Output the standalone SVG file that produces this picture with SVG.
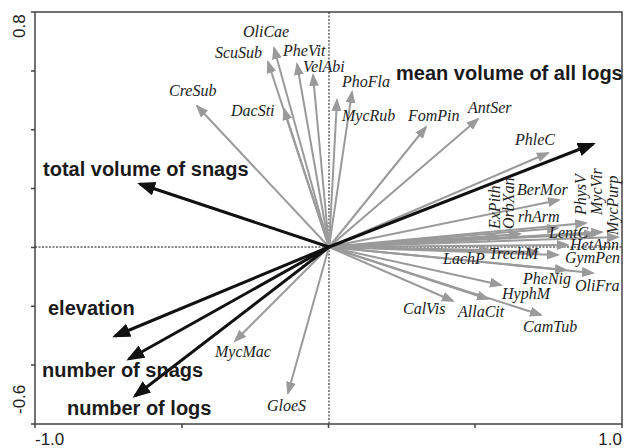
<svg xmlns="http://www.w3.org/2000/svg" width="627" height="448" viewBox="0 0 627 448">
<style>
.frame{fill:none;stroke:#444;stroke-width:1.5}
.tick{stroke:#444;stroke-width:1.5}
.dash{stroke:#111;stroke-width:1;stroke-dasharray:2,1.5;fill:none}
.sp{stroke:#9a9a9a;stroke-width:2;marker-end:url(#ga)}
.env{stroke:#111;stroke-width:3;marker-end:url(#ba)}
.lab{font-family:"Liberation Serif","DejaVu Serif",serif;font-style:italic;font-size:16px;fill:#222}
.big{font-family:"Liberation Sans",Arial,sans-serif;font-weight:bold;font-size:20px;fill:#1a1a1a}
.ax{font-family:"Liberation Sans",Arial,sans-serif;font-size:17px;fill:#222}
</style>
<defs>
<marker id="ga" markerUnits="userSpaceOnUse" markerWidth="15" markerHeight="11" refX="11" refY="5" orient="auto"><path d="M0,0 L13,5 L0,10 z" fill="#9a9a9a"/></marker>
<marker id="ba" markerUnits="userSpaceOnUse" markerWidth="20" markerHeight="16" refX="15" refY="7" orient="auto"><path d="M0,0 L18,7 L0,14 z" fill="#111"/></marker>
</defs>
<rect width="627" height="448" fill="#fff"/>
<g id="axes">
<path class="frame" d="M35,12 H622 V424 H35 Z"/>
<path class="tick" d="M35,12 H31 M35,70.9 H31 M35,129.7 H31 M35,188.6 H31 M35,247.4 H31 M35,306.3 H31 M35,365.1 H31 M35,424 H31 M35,424 V428 M182,424 V428 M328.5,424 V428 M475,424 V428 M622,424 V428"/>
<line class="dash" x1="329" y1="12" x2="329" y2="424"/>
<line class="dash" x1="35" y1="247" x2="622" y2="247"/>
<text class="ax" transform="translate(25,38) rotate(-90)">0.8</text>
<text class="ax" transform="translate(25,414) rotate(-90)">-0.6</text>
<text class="ax" x="35" y="445">-1.0</text>
<text class="ax" x="622" y="445" text-anchor="end">1.0</text>
</g>
<g id="connectors">
<line class="sp" x1="329" y1="247" x2="197" y2="106"/>
<line class="sp" x1="329" y1="247" x2="284" y2="109"/>
<line class="sp" x1="329" y1="247" x2="268" y2="62"/>
<line class="sp" x1="329" y1="247" x2="274" y2="48"/>
<line class="sp" x1="329" y1="247" x2="297" y2="64"/>
<line class="sp" x1="329" y1="247" x2="313" y2="75"/>
<line class="sp" x1="329" y1="247" x2="337" y2="100"/>
<line class="sp" x1="329" y1="247" x2="352" y2="92"/>
<line class="sp" x1="329" y1="247" x2="426" y2="127"/>
<line class="sp" x1="329" y1="247" x2="478" y2="119"/>
<line class="sp" x1="329" y1="247" x2="548" y2="153"/>
<line class="sp" x1="329" y1="247" x2="559" y2="200"/>
<line class="sp" x1="329" y1="247" x2="586" y2="223"/>
<line class="sp" x1="329" y1="247" x2="558" y2="228"/>
<line class="sp" x1="329" y1="247" x2="498" y2="236"/>
<line class="sp" x1="329" y1="247" x2="520" y2="234"/>
<line class="sp" x1="329" y1="247" x2="595" y2="234"/>
<line class="sp" x1="329" y1="247" x2="618" y2="237"/>
<line class="sp" x1="329" y1="247" x2="602" y2="232"/>
<line class="sp" x1="329" y1="247" x2="568" y2="245"/>
<line class="sp" x1="329" y1="247" x2="558" y2="255"/>
<line class="sp" x1="329" y1="247" x2="538" y2="252"/>
<line class="sp" x1="329" y1="247" x2="490" y2="250"/>
<line class="sp" x1="329" y1="247" x2="566" y2="270"/>
<line class="sp" x1="329" y1="247" x2="593" y2="273"/>
<line class="sp" x1="329" y1="247" x2="501" y2="285"/>
<line class="sp" x1="329" y1="247" x2="453" y2="301"/>
<line class="sp" x1="329" y1="247" x2="488" y2="299"/>
<line class="sp" x1="329" y1="247" x2="541" y2="315"/>
<line class="sp" x1="329" y1="247" x2="235" y2="341"/>
<line class="sp" x1="329" y1="247" x2="288" y2="393"/>
<line class="env" x1="329" y1="247" x2="593" y2="144"/>
<line class="env" x1="329" y1="247" x2="140" y2="184"/>
<line class="env" x1="329" y1="247" x2="115" y2="336"/>
<line class="env" x1="329" y1="247" x2="129" y2="359"/>
<line class="env" x1="329" y1="247" x2="135" y2="396"/>
</g>
<g id="n-CreSub"><text class="lab" x="169" y="96">CreSub</text></g>
<g id="n-DacSti"><text class="lab" x="231" y="116">DacSti</text></g>
<g id="n-ScuSub"><text class="lab" x="215" y="58">ScuSub</text></g>
<g id="n-OliCae"><text class="lab" x="243" y="37">OliCae</text></g>
<g id="n-PheVit"><text class="lab" x="283" y="56">PheVit</text></g>
<g id="n-VelAbi"><text class="lab" x="303" y="72">VelAbi</text></g>
<g id="n-PhoFla"><text class="lab" x="342" y="87">PhoFla</text></g>
<g id="n-MycRub"><text class="lab" x="342" y="121">MycRub</text></g>
<g id="n-FomPin"><text class="lab" x="408" y="121">FomPin</text></g>
<g id="n-AntSer"><text class="lab" x="468" y="113">AntSer</text></g>
<g id="n-PhleC"><text class="lab" x="515" y="145">PhleC</text></g>
<g id="n-BerMor"><text class="lab" x="517" y="195">BerMor</text></g>
<g id="n-rhArm"><text class="lab" x="518" y="222">rhArm</text></g>
<g id="n-ExPith"><text class="lab" transform="translate(500,229) rotate(-90)">ExPith</text></g>
<g id="n-OrbXan"><text class="lab" transform="translate(514,229) rotate(-90)">OrbXan</text></g>
<g id="n-PhysV"><text class="lab" transform="translate(586,215) rotate(-90)">PhysV</text></g>
<g id="n-MycVir"><text class="lab" transform="translate(602,215) rotate(-90)">MycVir</text></g>
<g id="n-MycPurp"><text class="lab" transform="translate(618,235) rotate(-90)">MycPurp</text></g>
<g id="n-LentC"><text class="lab" x="549" y="238">LentC</text></g>
<g id="n-HetAnn"><text class="lab" x="570" y="250">HetAnn</text></g>
<g id="n-GymPen"><text class="lab" x="565" y="263">GymPen</text></g>
<g id="n-TrechM"><text class="lab" x="489" y="259">TrechM</text></g>
<g id="n-LachP"><text class="lab" x="443" y="264">LachP</text></g>
<g id="n-PheNig"><text class="lab" x="523" y="284">PheNig</text></g>
<g id="n-OliFra"><text class="lab" x="575" y="291">OliFra</text></g>
<g id="n-HyphM"><text class="lab" x="502" y="299">HyphM</text></g>
<g id="n-CalVis"><text class="lab" x="403" y="314">CalVis</text></g>
<g id="n-AllaCit"><text class="lab" x="458" y="317">AllaCit</text></g>
<g id="n-CamTub"><text class="lab" x="523" y="332">CamTub</text></g>
<g id="n-MycMac"><text class="lab" x="215" y="357">MycMac</text></g>
<g id="n-GloeS"><text class="lab" x="267" y="411">GloeS</text></g>
<g id="n-meanvol"><text class="big" x="396" y="80">mean volume of all logs</text></g>
<g id="n-totvol"><text class="big" x="43" y="176">total volume of snags</text></g>
<g id="n-elev"><text class="big" x="48" y="315">elevation</text></g>
<g id="n-nsnags"><text class="big" x="42" y="377">number of snags</text></g>
<g id="n-nlogs"><text class="big" x="67" y="415">number of logs</text></g>
</svg>
